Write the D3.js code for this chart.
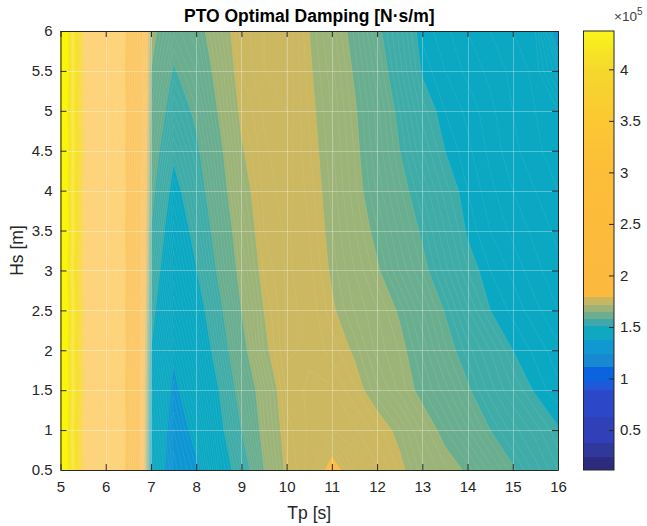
<!DOCTYPE html>
<html><head><meta charset="utf-8">
<script src="https://cdn.jsdelivr.net/npm/d3@7"></script>
<style>body{margin:0;background:#fff} svg{display:block} text{font-family:"Liberation Sans",Arial,sans-serif}</style>
</head><body><svg id="c" width="647" height="526"></svg>
<script>
// ---- data (PTO optimal damping, x1e5 N·s/m) ----
const tpValues = [5,5.5,6,6.5,7,7.5,8,8.5,9,9.5,10,10.5,11,11.5,12,12.5,13,13.5,14,14.5,15,15.5,16];
const hsValues = [0.5,1,1.5,2,2.5,3,3.5,4,4.5,5,5.5,6];
const hs0_5 = [4.35,3.30,2.90,2.55,1.463,1.312,1.358,1.470,1.54,1.65,1.718,1.745,1.81,1.76,1.742,1.718,1.684,1.663,1.646,1.615,1.584,1.555,1.53];
const hs1_0 = [4.33,3.26,2.91,2.56,1.477,1.329,1.390,1.490,1.58,1.667,1.726,1.742,1.75,1.742,1.726,1.701,1.667,1.641,1.611,1.58,1.555,1.535,1.512];
const hs1_5 = [4.36,3.32,2.89,2.55,1.490,1.353,1.423,1.51,1.606,1.676,1.734,1.742,1.742,1.722,1.693,1.667,1.641,1.615,1.584,1.555,1.53,1.507,1.493];
const hs2_0 = [4.34,3.28,2.90,2.56,1.51,1.380,1.450,1.54,1.633,1.701,1.742,1.738,1.726,1.706,1.676,1.659,1.628,1.593,1.565,1.54,1.51,1.497,1.483];
const hs2_5 = [4.35,3.31,2.91,2.55,1.535,1.410,1.477,1.565,1.65,1.71,1.742,1.738,1.714,1.689,1.671,1.646,1.611,1.578,1.542,1.51,1.497,1.483,1.470];
const hs3_0 = [4.33,3.25,2.90,2.56,1.56,1.437,1.507,1.589,1.667,1.722,1.742,1.734,1.706,1.680,1.654,1.619,1.589,1.555,1.52,1.500,1.487,1.473,1.463];
const hs3_5 = [4.36,3.30,2.89,2.55,1.58,1.463,1.53,1.606,1.680,1.730,1.742,1.730,1.701,1.671,1.641,1.606,1.575,1.54,1.507,1.490,1.477,1.467,1.457];
const hs4_0 = [4.34,3.27,2.90,2.56,1.598,1.490,1.55,1.624,1.693,1.734,1.746,1.726,1.697,1.663,1.628,1.593,1.56,1.525,1.500,1.483,1.470,1.460,1.450];
const hs4_5 = [4.35,3.32,2.91,2.55,1.615,1.52,1.57,1.637,1.706,1.738,1.746,1.722,1.693,1.659,1.619,1.58,1.54,1.51,1.493,1.477,1.463,1.453,1.443];
const hs5_0 = [4.33,3.28,2.90,2.56,1.633,1.55,1.589,1.654,1.718,1.742,1.75,1.718,1.689,1.654,1.615,1.57,1.525,1.500,1.487,1.473,1.460,1.450,1.440];
const hs5_5 = [4.36,3.30,2.89,2.55,1.65,1.575,1.611,1.667,1.730,1.75,1.75,1.714,1.684,1.646,1.602,1.555,1.507,1.490,1.477,1.467,1.457,1.447,1.40];
const hs6_0 = [4.35,3.29,2.90,2.56,1.667,1.602,1.628,1.684,1.734,1.75,1.75,1.71,1.676,1.637,1.589,1.545,1.497,1.483,1.470,1.460,1.450,1.440,1.345];
const xTicks = [5,6,7,8,9,10,11,12,13,14,15,16];
const yTicks = [0.5,1,1.5,2,2.5,3,3.5,4,4.5,5,5.5,6];
const cbarTicks = [0.5,1,1.5,2,2.5,3,3.5,4];
const cbarRange = [0.112, 4.372];

// ---- styles ----
const bandEdges = [1.11,1.24,1.37,1.51,1.58,1.65,1.71,1.79,2.0,2.6,3.3,3.5,3.7,3.85,4.0];
const bandColors = ["#1a6edc","#1888d0","#0e96d2","#0aa8c2","#40aca8","#6aae90","#9db478","#cbb860","#fbbc44","#fcc866","#fdd47c","#f9dc50","#f8e030","#f6ea48","#f8e428","#f9f50c"];
const cbarStops = [
  [0.112,"#2c2a7c"],[0.24,"#2c2c80"],[0.24,"#30389c"],[0.37,"#30389c"],[0.37,"#3040b8"],[0.63,"#3040b8"],
  [0.63,"#2c48c8"],[0.89,"#2c48c8"],[0.89,"#2058d8"],[0.97,"#2058d8"],[0.97,"#0a64e0"],[1.11,"#0a64e0"],
  [1.11,"#1888d0"],[1.24,"#1888d0"],[1.24,"#1098d0"],[1.37,"#1098d0"],[1.37,"#10a8c0"],[1.51,"#10a8c0"],
  [1.51,"#40a8a8"],[1.58,"#40a8a8"],[1.58,"#6cae90"],[1.65,"#6cae90"],[1.65,"#9cb278"],[1.71,"#9cb278"],
  [1.71,"#c8b660"],[1.79,"#c8b660"],[1.79,"#fbb93e"],[2.5,"#fcbc3a"],[3.0,"#fcbd38"],[3.5,"#fbc832"],
  [4.0,"#f5d82c"],[4.372,"#f8f51a"]];

const svg = d3.select("#c");
const L = 60.5, R = 558, T = 31, B = 470;
const x = d3.scaleLinear([5,16],[L,R]);
const y = d3.scaleLinear([0.5,6],[B,T]);
const axisColor = "#262626";

svg.append("defs").append("clipPath").attr("id","clip")
  .append("rect").attr("x",L).attr("y",T).attr("width",R-L).attr("height",B-T);

const nx = tpValues.length, ny = hsValues.length;
const zRows = [hs0_5,hs1_0,hs1_5,hs2_0,hs2_5,hs3_0,hs3_5,hs4_0,hs4_5,hs5_0,hs5_5,hs6_0];
const values = zRows.flat();
const levels = Array.from(new Set([...d3.range(100,200).map(d=>d/100), ...d3.range(20,45).map(d=>d/10), ...bandEdges])).sort((a,b)=>a-b);
const contours = d3.contours().size([nx,ny]).thresholds(levels)(values);
const ix = d3.scaleLinear([0,nx-1],[tpValues[0],tpValues[nx-1]]);
const iy = d3.scaleLinear([0,ny-1],[hsValues[0],hsValues[ny-1]]);
const path = d3.geoPath(d3.geoTransform({point(px,py){ this.stream.point(x(ix(px-0.5)), y(iy(py-0.5))); }}));
const fillScale = d3.scaleThreshold().domain(bandEdges).range(bandColors);

const gPlot = svg.append("g").attr("clip-path","url(#clip)");
gPlot.append("g").selectAll("path").data(contours).join("path")
  .attr("d", path).attr("fill", d => fillScale(d.value)).attr("stroke", d => fillScale(d.value)).attr("stroke-width",0.3);
gPlot.append("g").selectAll("path").data(contours.filter(d => d.value < 2.6)).join("path")
  .attr("d", path).attr("fill","none").attr("stroke","#fff").attr("stroke-opacity",0.15).attr("stroke-width",0.6);

// grid
const gGrid = svg.append("g").attr("stroke","#fff").attr("stroke-opacity",0.3).attr("shape-rendering","crispEdges");
xTicks.slice(1,-1).forEach(t => gGrid.append("line").attr("x1",Math.round(x(t))+0.5).attr("x2",Math.round(x(t))+0.5).attr("y1",T).attr("y2",B));
yTicks.slice(1,-1).forEach(t => gGrid.append("line").attr("y1",Math.round(y(t))+0.5).attr("y2",Math.round(y(t))+0.5).attr("x1",L).attr("x2",R));

// axes
function styleAxis(g){ g.selectAll("path,line").attr("stroke",axisColor); g.selectAll("text").attr("fill",axisColor).style("font-size","15px").style("font-family",'"Liberation Sans",Arial,sans-serif'); }
svg.append("g").attr("transform",`translate(0,${B})`).call(d3.axisBottom(x).tickValues(xTicks).tickFormat(d=>d).tickSize(-6).tickSizeOuter(0).tickPadding(11)).call(styleAxis);
svg.append("g").attr("transform",`translate(0,${T})`).call(d3.axisTop(x).tickValues(xTicks).tickFormat("").tickSize(-6).tickSizeOuter(0)).call(styleAxis);
svg.append("g").attr("transform",`translate(${L},0)`).call(d3.axisLeft(y).tickValues(yTicks).tickFormat(d=>d).tickSize(-6).tickSizeOuter(0).tickPadding(8)).call(styleAxis);
svg.append("g").attr("transform",`translate(${R},0)`).call(d3.axisRight(y).tickValues(yTicks).tickFormat("").tickSize(-6).tickSizeOuter(0)).call(styleAxis);
svg.selectAll(".domain").attr("stroke-width",1);

// colorbar
const CL = 583.5, CR = 614;
const cy = d3.scaleLinear(cbarRange,[B,T]);
const grad = svg.select("defs").append("linearGradient").attr("id","cbg").attr("x1",0).attr("y1",1).attr("x2",0).attr("y2",0);
cbarStops.forEach(([v,c]) => grad.append("stop").attr("offset",(v-cbarRange[0])/(cbarRange[1]-cbarRange[0])).attr("stop-color",c));
svg.append("rect").attr("x",CL).attr("y",T).attr("width",CR-CL).attr("height",B-T).attr("fill","url(#cbg)").attr("stroke",axisColor).attr("stroke-width",1);
svg.append("g").attr("transform",`translate(${CR},0)`).call(d3.axisRight(cy).tickValues(cbarTicks).tickFormat(d=>d).tickSize(-5).tickSizeOuter(0).tickPadding(6)).call(styleAxis)
  .select(".domain").remove();
const ex = svg.append("text").attr("x",614).attr("y",21).attr("fill","#404040").style("font-size","13.5px");
ex.append("tspan").text("×10");
ex.append("tspan").attr("dy",-6).style("font-size","10px").text("5");

// labels
svg.append("text").attr("x",(L+R)/2).attr("y",22).attr("text-anchor","middle").attr("font-weight","bold").style("font-size","17.5px").attr("fill","#000").text("PTO Optimal Damping [N·s/m]");
svg.append("text").attr("x",(L+R)/2).attr("y",519).attr("text-anchor","middle").style("font-size","17.5px").attr("fill",axisColor).text("Tp [s]");
svg.append("text").attr("transform",`translate(23,${(T+B)/2}) rotate(-90)`).attr("text-anchor","middle").style("font-size","17.5px").attr("fill",axisColor).text("Hs [m]");
</script></body></html>
